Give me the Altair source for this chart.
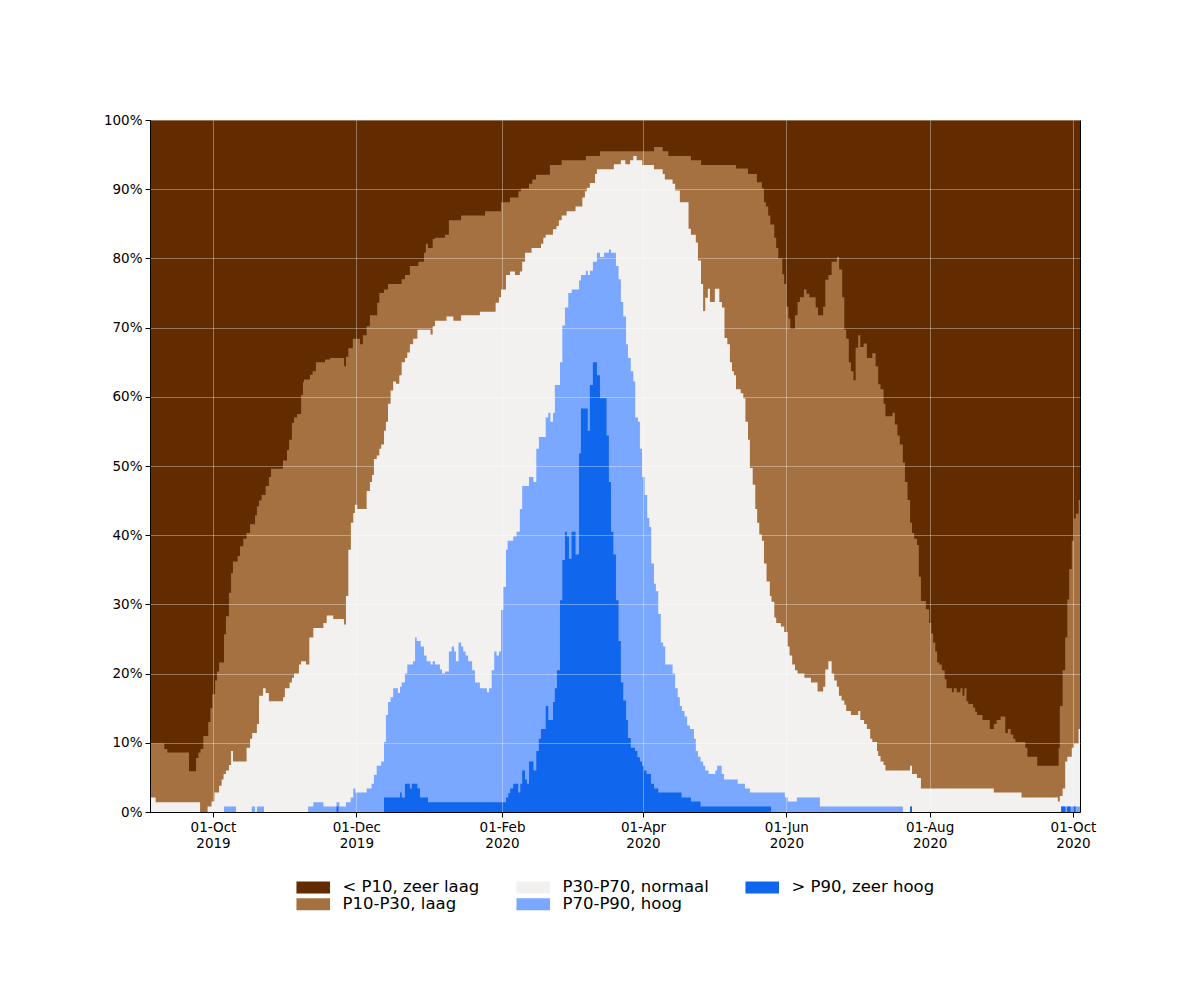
import altair as alt
import pandas as pd

# Day offsets are counted from the left edge of the time axis
START = pd.Timestamp("2019-09-04 04:30:00")
END_DAY = 395.8

cats = ["< P10, zeer laag", "P10-P30, laag", "P30-P70, normaal", "P70-P90, hoog", "> P90, zeer hoog"]
colors = ["#632B00", "#A57140", "#F2F1F0", "#7AA7FF", "#1166EE"]

# Cumulative upper boundaries (percent of area) as step change points
top_day = [0.0, END_DAY]
top_pct = [100.0, 100.0]

# top of "P10-P30, laag"
b4_day = [0, 6.1, 7.4, 16.6, 19.6, 20.6, 21.5, 22.7, 24.8, 25.7, 26.5, 27.7, 28.5, 29.4, 31.5, 32.3, 33.6, 34.5,
          35.3, 37.3, 38.3, 39.7, 41.1, 42.6, 44.7, 45.5, 46.4, 47.5, 49.2, 50.6, 51.5, 56.6, 58.3, 59.2, 60.4, 61.3,
          62.6, 64.3, 65.1, 65.5, 68.1, 69.2, 70.6, 74.5, 76.6, 82.6, 83.4, 84.4, 86.3, 89.4, 90.6, 92.2, 93.6, 96.7,
          97.6, 99.6, 101.3, 107.1, 108.5, 110.6, 114.2, 116.6, 117.4, 118.3, 120.3, 121.3, 125.5, 127.2, 132.4,
          142.6, 149.4, 153.2, 156.8, 157.9, 161.3, 162.7, 164.3, 170.2, 175.2, 185.5, 191.5, 214.5, 218.2, 220.6,
          230.2, 234.5, 249.4, 254.5, 258.3, 260.4, 261.3, 262.1, 263.1, 264.0, 265.7, 266.5, 267.4, 269.1, 269.9,
          270.8, 271.7, 272.5, 274.5, 275.6, 276.6, 278.3, 279.4, 280.6, 283.3, 284.3, 286.5, 287.4, 288.7, 290.1,
          292.3, 293.3, 294.6, 295.5, 296.3, 297.4, 298.3, 299.4, 300.3, 301.4, 302.3, 303.7, 305.1, 307.4, 308.8,
          309.9, 310.9, 312.2, 313.0, 316.0, 317.0, 318.1, 319.1, 320.4, 321.3, 322.4, 323.5, 324.3, 325.2, 326.4,
          327.2, 328.1, 330.2, 331.6, 332.5, 333.3, 334.2, 335.0, 335.9, 337.0, 338.2, 339.0, 341.3, 342.1, 343.3,
          344.9, 345.8, 346.6, 347.5, 348.3, 350.3, 351.2, 352.0, 354.3, 357.4, 359.1, 360.3, 362.0, 364.0, 365.1,
          366.3, 367.4, 368.3, 372.5, 373.4, 377.6, 386.7, 387.2, 388.4, 389.5, 390.4, 391.2, 392.3, 393.2, 394.0,
          395.2, 395.8]
b4_pct = [9.9, 9.1, 8.6, 5.9, 7.8, 8.6, 9.1, 11.0, 13.0, 15.0, 17.0, 19.0, 20.3, 21.6, 25.7, 28.3, 31.7, 34.5,
          36.2, 37.0, 38.4, 39.5, 40.3, 41.6, 42.9, 44.2, 45.0, 45.8, 47.1, 48.4, 49.6, 50.8, 52.3, 53.8, 56.2, 57.0,
          57.5, 60.3, 62.1, 62.5, 63.2, 63.7, 65.0, 65.4, 65.6, 64.4, 65.8, 67.0, 68.4, 67.6, 68.9, 70.2, 71.8, 73.6,
          75.0, 75.5, 76.3, 77.0, 77.6, 78.9, 79.5, 80.8, 82.1, 81.5, 82.8, 83.0, 83.4, 85.5, 86.2,
          86.8, 88.1, 88.8, 89.7, 90.1, 90.8, 91.4, 92.1, 93.5, 94.2, 94.8, 95.5, 96.1, 95.5, 94.8,
          94.2, 93.5, 93.0, 92.2, 91.0, 90.1, 88.1, 87.5, 86.2, 84.9, 83.0, 81.5, 80.0, 77.7, 76.3,
          73.0, 71.3, 69.8, 71.8, 73.7, 74.4, 75.5, 74.9, 74.4, 72.9, 71.8, 73.0, 76.9, 77.6, 79.5,
          80.2, 78.4, 74.4, 69.7, 68.4, 65.0, 63.7, 62.4, 67.1, 68.9, 67.2, 67.7, 65.6, 66.3, 64.4,
          61.8, 61.1, 59.0, 57.2, 57.7, 56.0, 54.4, 53.1, 50.5, 47.7, 45.1, 41.8, 40.3, 39.5, 38.6,
          34.0, 30.5, 29.3, 27.3, 25.8, 24.5, 23.2, 21.6, 21.3, 20.5, 19.2, 17.9, 17.3, 17.9, 17.3,
          17.9, 16.8, 17.9, 16.0, 15.6, 15.1, 14.5, 14.0, 13.3, 12.0, 12.7, 13.3, 13.8, 11.4, 12.0,
          11.2, 10.6, 10.1, 9.3, 8.0, 6.7, 9.3, 15.3, 20.5, 25.2, 30.7, 35.1, 39.2, 42.4, 43.1,
          45.1, 45.1]

# top of "P30-P70, normaal"
b3_day = [0, 2.4, 21.3, 24.5, 26.2, 27.4, 29.4, 30.5, 31.3, 32.3, 33.6, 34.5, 35.3, 41.1, 42.6, 43.5, 45.5, 46.4,
          48.1, 49.2, 50.6, 56.6, 57.4, 59.4, 60.4, 61.3, 63.4, 64.3, 66.4, 67.8, 69.5, 73.8, 75.2, 78.0, 82.6, 83.4,
          84.4, 85.5, 86.5, 87.2, 88.2, 92.2, 93.6, 94.5, 95.3, 96.5, 97.6, 98.4, 99.6, 100.4, 101.3, 102.4, 103.5,
          104.7, 106.1, 107.1, 108.5, 109.5, 110.6, 112.0, 113.8, 119.4, 120.3, 121.3, 126.2, 129.1, 132.4, 140.4,
          147.1, 148.5, 149.4, 151.5, 153.2, 155.3, 157.4, 158.4, 159.6, 162.4, 166.4, 167.4, 168.4, 171.5, 173.0,
          174.0, 175.2, 177.3, 181.1, 184.0, 185.1, 185.9, 187.2, 189.4, 190.2, 197.4, 200.4, 202.3, 204.3, 205.7,
          207.1, 209.5, 214.5, 218.2, 219.1, 222.4, 223.5, 225.5, 229.2, 230.2, 232.3, 233.2, 234.5, 235.4, 236.3,
          237.4, 238.3, 240.4, 242.3, 243.4, 244.5, 245.7, 246.8, 247.7, 248.5, 249.4, 251.4, 252.5, 253.4, 254.5,
          255.3, 256.5, 257.6, 258.4, 259.3, 260.4, 261.3, 262.4, 263.8, 264.5, 265.7, 266.5, 268.5, 269.9, 271.4,
          272.2, 273.3, 274.5, 275.6, 278.5, 281.3, 284.1, 286.5, 287.4, 288.7, 290.1, 291.2, 292.3, 293.2, 294.3,
          295.5, 296.3, 298.3, 301.4, 302.3, 303.9, 305.1, 306.5, 307.4, 309.4, 309.9, 310.9, 312.2, 313.0, 323.5,
          324.3, 326.4, 328.1, 359.1, 370.9, 386.4, 387.2, 388.4, 389.5, 390.4, 392.3, 393.2, 395.2, 395.8]
b3_pct = [2.1, 1.4, 0.0, 0.8, 1.5, 2.8, 3.8, 4.7, 5.5, 6.0, 6.8, 8.8, 7.3, 9.3, 10.6, 11.4, 12.7, 16.8,
          17.9, 17.2, 16.0, 16.6, 17.9, 18.7, 19.4, 20.0, 21.3, 21.8, 21.3, 25.2, 26.6, 27.3, 28.4, 27.9, 27.1, 31.2,
          37.9, 41.8, 43.2, 44.4, 43.8, 46.4, 47.7, 48.7, 51.0, 51.5, 52.5, 53.1, 55.1, 56.4, 59.0, 60.9, 62.2,
          61.9, 63.1, 65.0, 65.6, 66.4, 67.6, 68.4, 69.7, 69.0, 70.2, 71.0, 71.6, 71.0, 71.8, 72.3,
          73.6, 74.4, 75.5, 77.6, 78.1, 77.6, 78.1, 79.5, 80.8, 81.5, 82.1, 83.0, 83.4, 84.2, 84.7,
          85.5, 86.2, 86.8, 87.5, 88.8, 89.7, 90.2, 90.9, 92.2, 92.9, 93.6, 94.2, 93.6, 94.2, 94.8,
          94.2, 93.5, 92.9, 92.2, 91.4, 90.8, 89.8, 88.1, 84.3, 83.4, 82.3, 79.7, 76.3, 72.4, 74.3,
          75.6, 73.7, 75.6, 73.7, 72.9, 68.5, 67.6, 65.0, 63.7, 63.1, 61.1, 60.5, 59.8, 56.4, 53.8,
          49.7, 47.3, 43.8, 41.8, 40.1, 39.2, 35.9, 33.3, 31.2, 30.4, 28.1, 27.3, 26.8, 26.0, 23.9,
          22.6, 21.3, 20.5, 20.0, 19.4, 18.7, 17.4, 18.1, 20.6, 21.8, 20.0, 19.0, 18.1, 16.8, 16.1,
          15.5, 14.6, 14.0, 14.6, 13.3, 12.7, 12.0, 10.6, 10.1, 8.8, 8.1, 7.3, 6.8, 6.0, 6.7,
          5.5, 4.9, 3.4, 2.8, 2.1, 1.5, 2.3, 3.4, 7.3, 8.0, 9.3, 9.9, 12.0, 12.0]

# top of "P70-P90, hoog"
b2_day = [0, 31.5, 36.6, 43.3, 44.7, 45.5, 48.5, 67.3, 69.5, 73.8, 79.4, 80.6, 83.4, 85.4, 86.5, 87.4, 92.2, 94.3,
          95.3, 96.5, 98.4, 99.6, 100.4, 101.3, 102.4, 103.5, 105.5, 106.4, 107.1, 108.5, 109.5, 111.9, 112.8, 113.5,
          115.2, 116.6, 117.7, 119.4, 120.3, 121.3, 123.4, 124.3, 125.5, 127.2, 128.4, 129.4, 130.2, 131.3, 132.4,
          133.3, 134.3, 135.4, 137.1, 138.3, 140.4, 143.4, 144.3, 145.4, 146.5, 147.5, 148.5, 149.4, 150.4, 151.5,
          152.2, 154.6, 156.0, 157.4, 158.4, 161.3, 163.2, 164.4, 165.5, 168.4, 169.5, 170.4, 171.5, 172.3, 174.5,
          175.5, 176.6, 178.0, 179.5, 182.6, 183.4, 185.5, 186.3, 187.2, 188.5, 190.2, 191.5, 193.2, 195.3, 196.2,
          198.3, 199.4, 200.4, 201.4, 202.6, 203.4, 204.6, 205.7, 206.5, 207.7, 208.5, 209.4, 210.5, 211.6, 212.5,
          213.3, 214.5, 215.3, 216.3, 217.4, 218.4, 219.3, 222.4, 223.5, 224.6, 225.5, 226.4, 227.5, 228.6, 229.8,
          231.5, 232.3, 233.2, 234.3, 235.4, 236.3, 237.7, 240.6, 241.4, 243.3, 244.3, 250.1, 253.2, 255.3, 270.2,
          271.4, 275.3, 285.1, 320.4, 323.5, 324.3, 387.8, 395.8]
b2_pct = [0.0, 0.8, 0.0, 0.8, 0.0, 0.8, 0.0, 0.8, 1.4, 0.8, 1.4, 0.8, 1.4, 2.1, 3.4, 2.8, 3.4, 4.1,
          5.4, 6.7, 7.3, 10.1, 14.0, 15.9, 16.6, 17.9, 17.2, 18.1, 18.7, 20.0, 21.3, 21.8, 25.2, 24.7,
          23.9, 22.6, 21.8, 21.3, 21.8, 21.3, 20.6, 20.0, 20.3, 23.2, 23.9, 23.2, 21.8, 24.5, 23.9,
          23.2, 22.6, 21.8, 20.5, 18.7, 17.9, 17.3, 17.9, 20.5, 23.2, 22.6, 23.2, 29.2, 32.5, 37.9,
          39.2, 39.8, 40.5, 43.8, 47.1, 48.4, 47.7, 52.5, 54.2, 57.0, 57.7, 56.4, 57.7, 61.7, 65.0,
          70.3, 72.9, 75.0, 75.5, 76.8, 77.6, 78.2, 77.6, 78.2, 79.5, 80.8, 80.2, 80.8, 81.3, 80.8,
          78.9, 77.0, 73.7, 71.6, 67.6, 65.6, 63.7, 62.2, 57.0, 56.4, 52.5, 48.4, 45.8, 42.5, 41.2,
          35.9, 33.0, 31.9, 28.6, 24.5, 23.9, 21.3, 20.0, 17.9, 16.6, 15.3, 14.6, 13.8, 12.5, 12.0,
          10.6, 8.8, 8.0, 7.3, 6.7, 6.0, 5.5, 6.0, 6.7, 5.5, 4.7, 4.1, 3.4, 2.8, 2.1,
          1.5, 2.1, 0.8, 0.0, 0.8, 0.0, 0.8, 0.8]

# top of "> P90, zeer hoog"
b1_day = [0, 79.4, 80.2, 99.6, 106.4, 107.1, 108.5, 110.6, 111.4, 113.8, 114.9, 118.3, 151.5, 152.5, 153.3, 154.6,
          156.7, 157.6, 158.4, 159.6, 160.4, 161.3, 163.2, 164.4, 165.5, 166.4, 168.4, 169.5, 171.5, 172.3, 173.2,
          174.5, 175.5, 176.6, 177.4, 178.3, 179.4, 181.1, 182.6, 183.4, 186.3, 187.2, 188.5, 190.2, 191.5, 194.3,
          195.3, 196.2, 197.2, 198.3, 199.4, 200.4, 201.4, 202.6, 203.4, 204.6, 206.4, 207.4, 208.5, 209.4, 210.2,
          211.3, 213.2, 214.5, 216.3, 226.2, 230.2, 234.3, 264.3, 323.5, 324.3, 387.8, 389.6, 390.3, 391.8, 392.8,
          393.9, 395.8]
b1_pct = [0.0, 0.8, 0.0, 2.1, 2.8, 2.1, 4.1, 3.4, 4.1, 3.4, 2.1, 1.4, 2.1, 2.7, 3.4, 4.1,
          2.8, 4.1, 6.0, 4.7, 4.1, 7.3, 6.0, 8.8, 10.6, 12.0, 15.3, 13.3, 15.9, 17.9, 20.5,
          30.6, 36.4, 40.5, 39.8, 36.6, 40.5, 37.2, 51.8, 58.3, 55.1, 61.7, 65.0, 63.1, 59.8, 54.4,
          47.7, 40.5, 37.2, 30.6, 24.7, 18.7, 16.1, 13.3, 10.7, 9.3, 8.8, 7.9, 7.3, 6.7, 6.0,
          5.5, 4.1, 3.4, 2.8, 2.1, 1.5, 0.8, 0.0, 0.8, 0.0, 0.8, 0.0, 0.8, 0.0, 0.8,
          0.0, 0.0]


def band(days, pcts, cat):
    return pd.DataFrame({
        "date": [(START + pd.Timedelta(days=d)).strftime("%Y-%m-%dT%H:%M:%SZ") for d in days],
        "pct": pcts,
        "cat": cat,
    })


def ms(ts):
    return int(ts.timestamp() * 1000)


x_domain = [ms(START), ms(START + pd.Timedelta(days=END_DAY))]
tick_dates = [alt.DateTime(year=y, month=m, date=1, utc=True)
              for y, m in [(2019, 10), (2019, 12), (2020, 2), (2020, 4), (2020, 6), (2020, 8), (2020, 10)]]

X = alt.X("date:T", title=None,
          scale=alt.Scale(type="utc", domain=x_domain, nice=False),
          axis=alt.Axis(values=tick_dates,
                        labelExpr="[utcFormat(datum.value, '%d-%b'), utcFormat(datum.value, '%Y')]",
                        grid=True, zindex=1))
Y = alt.Y("pct:Q", title=None, stack=None,
          scale=alt.Scale(domain=[0, 100], nice=False),
          axis=alt.Axis(values=list(range(0, 101, 10)), labelExpr="datum.value + '%'",
                        grid=True, zindex=1))
C = alt.Color("cat:N",
              scale=alt.Scale(domain=cats, range=colors),
              legend=alt.Legend(title=None, orient="none", legendX=155, legendY=759, columns=3,
                                symbolType="M-2.8,-1H2.8V1H-2.8Z", symbolSize=144,
                                symbolStrokeWidth=0, symbolOpacity=1,
                                labelFont="DejaVu Sans", labelFontSize=16.5, labelColor="black",
                                labelOffset=21, columnPadding=36, rowPadding=-2))


def layer(df):
    return alt.Chart(df).mark_area(interpolate="step-after", opacity=1).encode(x=X, y=Y, color=C)


chart = alt.layer(
    layer(band(top_day, top_pct, cats[0])),
    layer(band(b4_day, b4_pct, cats[1])),
    layer(band(b3_day, b3_pct, cats[2])),
    layer(band(b2_day, b2_pct, cats[3])),
    layer(band(b1_day, b1_pct, cats[4])),
).properties(
    width=930, height=692,
    autosize=alt.AutoSizeParams(type="none"),
    padding={"left": 142, "top": 112, "right": 112, "bottom": 180},
).configure_view(
    stroke="black", strokeWidth=1
).configure_axis(
    gridColor="#ffffff", gridOpacity=0.35, gridWidth=1,
    domainColor="black", tickColor="black", tickSize=5,
    labelFont="DejaVu Sans", labelFontSize=13.5, labelColor="black",
    labelPadding=3, labelLineHeight=16,
)

chart.save("out.html", embed_options={"renderer": "svg", "actions": False})
